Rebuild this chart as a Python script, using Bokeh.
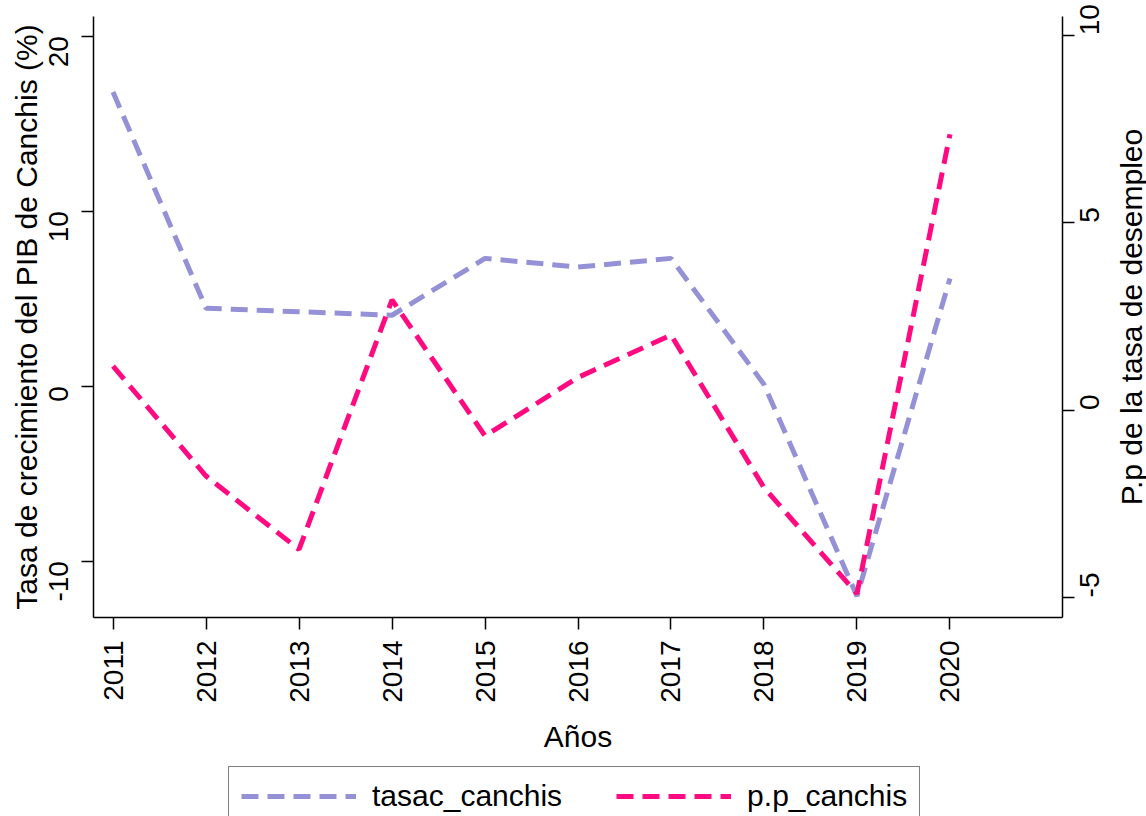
import math
from bokeh.plotting import figure
from bokeh.layouts import column, row
from bokeh.models import Range1d, LinearAxis, FixedTicker, Legend, LegendItem
from bokeh.embed import file_html
from bokeh.resources import INLINE

# ---- data ----
years = [2011, 2012, 2013, 2014, 2015, 2016, 2017, 2018, 2019, 2020]
tasac_canchis = [16.8, 4.45, 4.25, 4.05, 7.3, 6.8, 7.3, 0.1, -12.0, 6.15]
pp_canchis = [1.17, -1.76, -3.72, 2.94, -0.69, 0.87, 2.0, -2.07, -4.9, 7.36]
left_ticks = [-10, 0, 10, 20]
right_ticks = [-5, 0, 5, 10]
x_ticks = years
series_names = ["tasac_canchis", "p.p_canchis"]
x_title = "Años"
left_title = "Tasa de crecimiento del PIB de Canchis (%)"
right_title = "P.p de la tasa de desempleo"

BLUE = "#9591D6"
PINK = "#FF0A80"
FONT = "Liberation Sans"

P_W = 1111
p = figure(width=P_W, height=760, output_backend="svg", toolbar_location=None,
           x_range=Range1d(2010.79, 2021.21), y_range=Range1d(-13.22, 21.12),
           min_border_left=93, min_border_right=P_W - 1064, min_border_top=16,
           min_border_bottom=143)
p.extra_y_ranges = {"right": Range1d(-5.535, 10.5)}
right_axis = LinearAxis(y_range_name="right")
p.add_layout(right_axis, "right")

p.xgrid.visible = False
p.ygrid.visible = False
p.outline_line_color = None
p.background_fill_color = "white"
p.border_fill_color = "white"

p.xaxis[0].ticker = FixedTicker(ticks=x_ticks)
p.yaxis[0].ticker = FixedTicker(ticks=left_ticks)
right_axis.ticker = FixedTicker(ticks=right_ticks)
p.yaxis[0].major_label_overrides = {t: str(t) for t in left_ticks}
right_axis.major_label_overrides = {t: str(t) for t in right_ticks}

p.xaxis[0].axis_label = x_title
p.yaxis[0].axis_label = left_title


def style_axis(ax):
    ax.axis_line_width = 1.5
    ax.axis_line_color = "black"
    ax.major_tick_line_width = 1.5
    ax.major_tick_line_color = "black"
    ax.major_tick_out = 12
    ax.major_tick_in = 0
    ax.minor_tick_out = 0
    ax.minor_tick_in = 0
    ax.major_label_text_font = FONT
    ax.major_label_text_font_size = "28px"
    ax.major_label_text_color = "black"
    ax.major_label_orientation = math.pi / 2
    ax.major_label_standoff = 11
    ax.axis_label_text_font = FONT
    ax.axis_label_text_font_size = "30px"
    ax.axis_label_text_font_style = "normal"
    ax.axis_label_text_color = "black"


for ax in [p.xaxis[0], p.yaxis[0], right_axis]:
    style_axis(ax)

p.xaxis[0].axis_label_standoff = 14
p.yaxis[0].major_label_standoff = 23
p.yaxis[0].axis_label_standoff = -6
right_axis.major_label_standoff = 15

r1 = p.line(x=years, y=tasac_canchis, line_color=BLUE, line_width=5,
            line_dash="17 9")
r2 = p.line(x=years, y=pp_canchis, line_color=PINK, line_width=5,
            line_dash="17 9", y_range_name="right")

# ---- narrow strip on the right that carries the right-hand axis title ----
rf = figure(width=1146 - P_W, height=760, output_backend="svg",
            toolbar_location=None, x_range=Range1d(0, 1),
            y_range=Range1d(-5.535, 10.5), x_axis_type=None,
            min_border_left=0, min_border_right=0, min_border_top=16,
            min_border_bottom=143)
rf.outline_line_color = None
rf.xgrid.visible = False
rf.ygrid.visible = False
rf.background_fill_color = "white"
rf.border_fill_color = "white"
ta = rf.yaxis[0]
style_axis(ta)
ta.ticker = FixedTicker(ticks=[])
ta.axis_line_color = None
ta.major_tick_out = 0
ta.major_label_standoff = 0
ta.axis_label = right_title
ta.axis_label_standoff = -5

# ---- legend strip under the chart ----
lf = figure(width=1146, height=56, output_backend="svg", toolbar_location=None,
            x_range=Range1d(0, 1), y_range=Range1d(0, 1),
            x_axis_type=None, y_axis_type=None,
            min_border_left=93, min_border_right=82, min_border_top=0,
            min_border_bottom=0)
lf.outline_line_color = None
lf.background_fill_color = "white"
lf.border_fill_color = "white"
lr1 = lf.line(x=years, y=tasac_canchis, line_color=BLUE, line_width=5,
              line_dash="17 9")
lr2 = lf.line(x=years, y=pp_canchis, line_color=PINK, line_width=5,
              line_dash="17 9")

legend = Legend(items=[LegendItem(label=series_names[0], renderers=[lr1]),
                       LegendItem(label=series_names[1], renderers=[lr2])],
                orientation="horizontal", location=(135, -10),
                border_line_color="black", border_line_width=1.5,
                label_text_font=FONT, label_text_font_size="30px",
                label_text_color="black",
                glyph_width=115, glyph_height=34, label_standoff=16,
                spacing=54, padding=12, margin=0)
lf.add_layout(legend, "center")

layout = column(row(p, rf, spacing=0), lf, spacing=0)
open("out.html", "w").write(file_html(layout, INLINE))
